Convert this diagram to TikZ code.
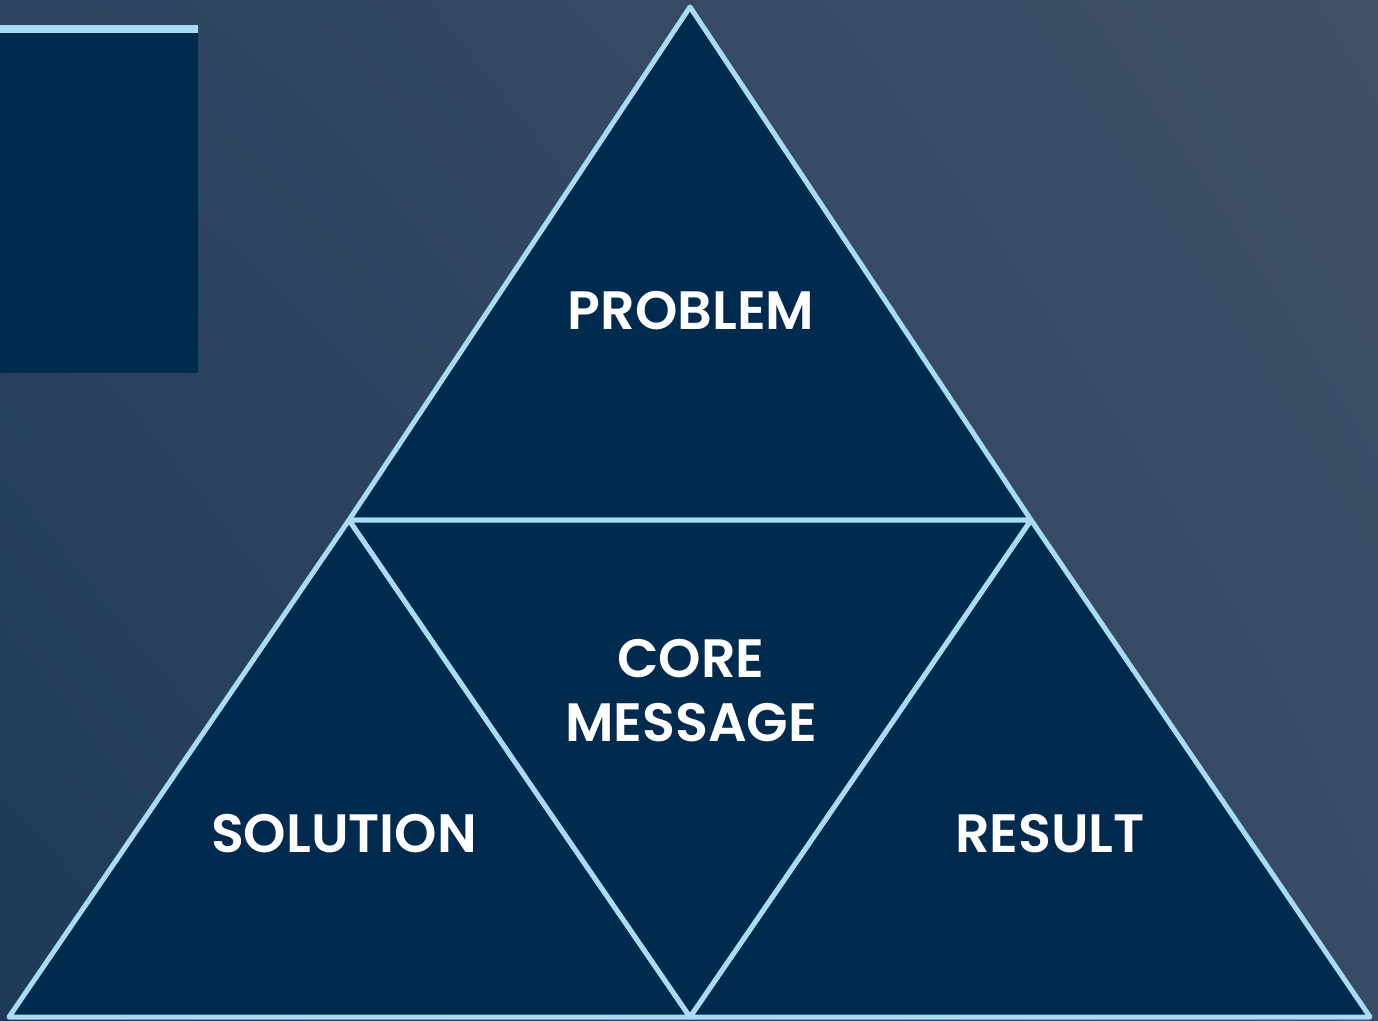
\documentclass[tikz,border=0pt]{standalone}
\usepackage{fontspec}
\usepackage{tikz}
\usetikzlibrary{positioning, shadings}
\newfontfamily\lblfont{Poppins SemiBold}
\definecolor{navy}{RGB}{1,42,79}
\definecolor{edgeblue}{RGB}{168,220,245}
\definecolor{bgul}{RGB}{44,69,96}
\definecolor{bgur}{RGB}{65,80,104}
\definecolor{bgll}{RGB}{30,58,89}
\definecolor{bglr}{RGB}{55,75,101}

\begin{document}
\begin{tikzpicture}[x=1pt, y=-1pt,
    part/.style={draw=edgeblue, fill=navy, line width=5pt, line join=round}, % Dreiecke
    lbl/.style={text=white, font=\lblfont\fontsize{54}{62}\selectfont, align=center, inner sep=0pt}
    ]
% Hintergrund
\shade[upper left=bgul, upper right=bgur, lower left=bgll, lower right=bglr] (0,0) rectangle (1378,1020);
\useasboundingbox (0,0) rectangle (1378,1020);

% Block oben links
\fill[navy] (0,29) rectangle (198,373);
\fill[edgeblue] (0,25) rectangle (198,33);

% Dreiecke
\draw[part] (690,7) -- (1031,520) -- (349,520) -- cycle;
\draw[part] (349,520) -- (690,1017) -- (9,1017) -- cycle;
\draw[part] (1031,520) -- (1370,1017) -- (690,1017) -- cycle;
\draw[part] (349,520) -- (1031,520) -- (690,1017) -- cycle;

\node[lbl] (problem) at (691,311) {PROBLEM};
\node[lbl] (core) at (691,691) {CORE\\[2pt]MESSAGE};
\node[lbl] (solution) at (344,834) {SOLUTION};
\node[lbl] (result) at (1050,834) {RESULT};
\end{tikzpicture}
\end{document}
